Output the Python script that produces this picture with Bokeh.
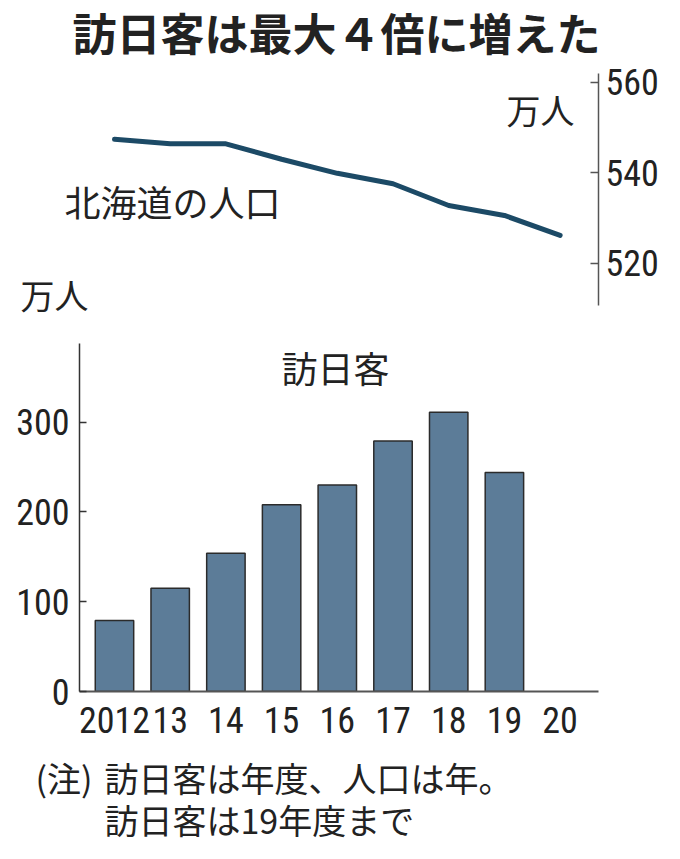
from bokeh.plotting import figure
from bokeh.layouts import column
from bokeh.models import Range1d, LinearAxis, FixedTicker, Label
from bokeh.embed import file_html
from bokeh.resources import INLINE

# data
years = [2012, 2013, 2014, 2015, 2016, 2017, 2018, 2019]
visitors = [79, 115, 154, 208, 230, 279, 311, 244]  # 万人, fiscal year

pop_years = [2012, 2013, 2014, 2015, 2016, 2017, 2018, 2019, 2020]
population = [547.4, 546.4, 546.4, 543.0, 539.9, 537.6, 532.8, 530.6, 526.2]  # 万人

tick_years = [2012, 2013, 2014, 2015, 2016, 2017, 2018, 2019, 2020]
tick_labels = ["2012", "13", "14", "15", "16", "17", "18", "19", "20"]
visitor_ticks = [0, 100, 200, 300]
pop_ticks = [520, 540, 560]

JP = "Noto Sans CJK JP"
NUM = "'Liberation Sans Narrow', 'Roboto Condensed', sans-serif"
INK = "#222222"


def style_axis(ax, tick_in, standoff, color):
    ax.major_tick_in = tick_in
    ax.major_tick_out = 0
    ax.minor_tick_in = 0
    ax.minor_tick_out = 0
    ax.axis_line_color = color
    ax.axis_line_width = 1.5
    ax.major_tick_line_color = color
    ax.major_tick_line_width = 1.5
    ax.major_label_standoff = standoff
    ax.major_label_text_font = NUM
    ax.major_label_text_font_size = "36px"
    ax.major_label_text_color = INK


def bare(fig):
    fig.grid.visible = False
    fig.outline_line_color = None
    fig.background_fill_color = "white"
    fig.border_fill_color = "white"
    # each panel keeps its own frame, no lining up with the others
    if "frame_align" in fig.properties():
        fig.frame_align = False


def note(fig, text, x, y, size, align="center", bold=False):
    fig.add_layout(Label(x=x, y=y, x_units="screen", y_units="screen", text=text,
                         text_font=JP, text_font_size=size, text_align=align,
                         text_baseline="middle", text_color=INK,
                         text_font_style="bold" if bold else "normal"))


# --- top: Hokkaido population line, right axis
top = figure(width=664, height=320, output_backend="svg", toolbar_location=None,
             title=None, x_axis_location=None, y_axis_location=None,
             x_range=Range1d(2009.953, 2020.689), y_range=Range1d(507.42, 578.03),
             min_border_left=0, min_border_right=66, min_border_top=0, min_border_bottom=0)
bare(top)
top.line(pop_years, population, line_color="#1c4a66", line_width=5,
         line_cap="round", line_join="round")
ra = LinearAxis(ticker=FixedTicker(ticks=pop_ticks), bounds=(510.7, 561.9))
style_axis(ra, 8, 7, "#555555")
top.add_layout(ra, "right")

note(top, "訪日客は最大４倍に増えた", 336, 289, "44px", bold=True)
note(top, "万人", 540, 211, "34px")
note(top, "北海道の人口", 172, 120, "36px")
note(top, "万人", 54, 26, "34px")

# --- bottom: visitor bars
bot = figure(width=664, height=430, output_backend="svg", toolbar_location=None,
             title=None, x_range=Range1d(2011.372, 2020.689), y_range=Range1d(0, 413.3),
             min_border_left=79, min_border_right=66, min_border_top=0, min_border_bottom=59)
bare(bot)
bot.vbar(x=years, top=visitors, width=0.69, bottom=0,
         fill_color="#5c7c98", line_color="#2b2b2b", line_width=1.5)

xa = bot.xaxis[0]
xa.ticker = FixedTicker(ticks=tick_years)
xa.major_label_overrides = {y: t for y, t in zip(tick_years, tick_labels)}
style_axis(xa, 0, 15, "#555555")
xa.axis_line_width = 2

ya = bot.yaxis[0]
ya.ticker = FixedTicker(ticks=visitor_ticks)
ya.bounds = (0, 387.3)
style_axis(ya, 7, 10, "#333333")

note(bot, "訪日客", 256, 325, "36px")

# --- notes
foot = figure(width=664, height=93, output_backend="svg", toolbar_location=None,
              title=None, x_axis_location=None, y_axis_location=None,
              x_range=Range1d(0, 1), y_range=Range1d(0, 1),
              min_border_left=0, min_border_right=0, min_border_top=0, min_border_bottom=0)
bare(foot)
note(foot, "(注)", 35, 66, "34px", align="left")
note(foot, "訪日客は年度、人口は年。", 104, 66, "34px", align="left")
note(foot, "訪日客は19年度まで", 104, 24, "34px", align="left")

layout = column(top, bot, foot, spacing=0)
open("out.html", "w").write(file_html(layout, INLINE))
